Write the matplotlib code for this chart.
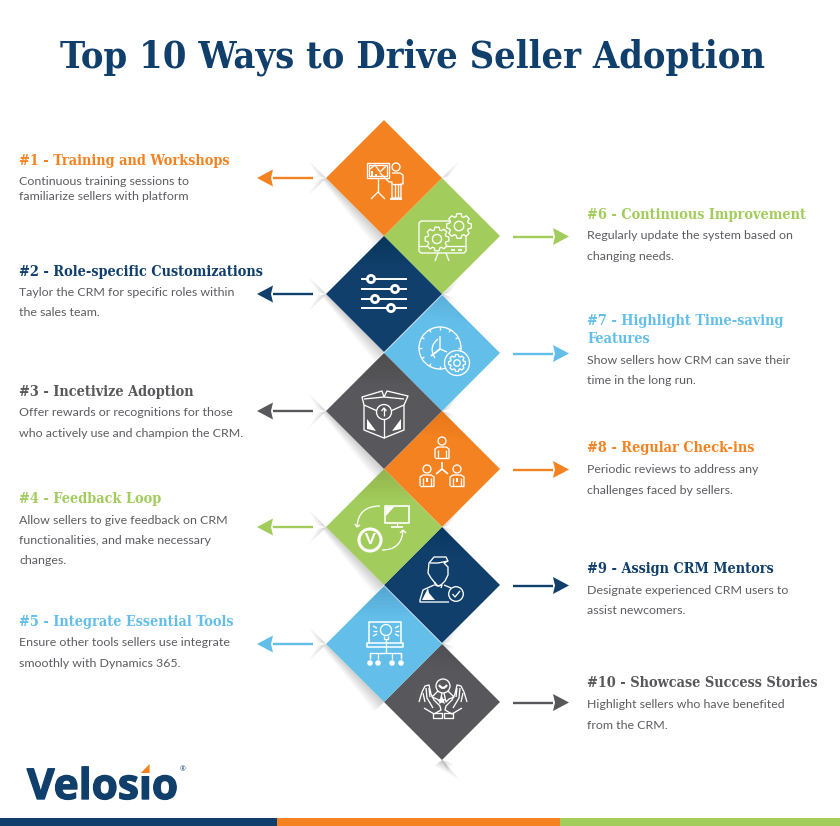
import numpy as np
import matplotlib
matplotlib.use("Agg")
import matplotlib.pyplot as plt
import matplotlib.patheffects as pe
from matplotlib.patches import Polygon, Circle, Rectangle, PathPatch
from matplotlib.path import Path

ORANGE, GREEN, NAVY, BLUE, GRAY = "#F58220", "#A2CC5B", "#103F6B", "#63BFEA", "#58585C"
BODY = "#5C5C62"

main_title = "Top 10 Ways to Drive Seller Adoption"
left_heads = ["#1 - Training and Workshops", "#2 - Role-specific Customizations",
              "#3 - Incetivize Adoption", "#4 - Feedback Loop", "#5 - Integrate Essential Tools"]
left_bodies = [["Continuous training sessions to", "familiarize sellers with platform"],
               ["Taylor the CRM for specific roles within", "the sales team."],
               ["Offer rewards or recognitions for those", "who actively use and champion the CRM."],
               ["Allow sellers to give feedback on CRM", "functionalities, and make necessary", "changes."],
               ["Ensure other tools sellers use integrate", "smoothly with Dynamics 365."]]
left_colors = [ORANGE, NAVY, GRAY, GREEN, BLUE]
right_heads = [["#6 - Continuous Improvement"], ["#7 - Highlight Time-saving", "Features"],
               ["#8 - Regular Check-ins"], ["#9 - Assign CRM Mentors"], ["#10 - Showcase Success Stories"]]
right_bodies = [["Regularly update the system based on", "changing needs."],
                ["Show sellers how CRM can save their", "time in the long run."],
                ["Periodic reviews to address any", "challenges faced by sellers."],
                ["Designate experienced CRM users to", "assist newcomers."],
                ["Highlight sellers who have benefited", "from the CRM."]]
right_colors = [GREEN, BLUE, ORANGE, NAVY, GRAY]

left_head_y = [165, 276, 396, 503, 626]
right_head_y = [219, 325, 452, 573, 687]
body_y_left = [[185, 200], [296, 316], [416, 437], [524, 544, 564], [646, 667]]
body_y_right = [[239, 260], [364, 384], [473, 494], [594, 614], [708, 729]]

fig = plt.figure(figsize=(8.4, 8.26), dpi=100)
ax = fig.add_axes([0, 0, 1, 1])
ax.set_xlim(0, 840); ax.set_ylim(826, 0); ax.axis("off")

HEAD = dict(family="DejaVu Serif", stretch="condensed", weight="bold", fontsize=10.4)
TXT = dict(family="Lato", fontsize=8.9, color=BODY)
R = 58
LX, RX = 384, 442
LY = [178, 294, 411, 527, 644]
RY = [236, 353, 469, 585, 702]

# ---------- soft shadows ----------
def wedge(ap, far1, far2, a=0.022, n=12, z=1):
    ap = np.array(ap, float); f1 = np.array(far1, float); f2 = np.array(far2, float)
    for s in np.linspace(1, .12, n):
        ax.add_patch(Polygon([ap, ap + (f1 - ap) * s, ap + (f2 - ap) * s], closed=True, fc="black", ec="none", alpha=a, zorder=z))

def band(a_, b_, nrm, t0, t1, al=0.022, n=10, z=1):
    a_ = np.array(a_, float); b_ = np.array(b_, float); nrm = np.array(nrm, float)
    for s in np.linspace(1, .1, n):
        ax.add_patch(Polygon([a_, b_, b_ + nrm * t1 * s, a_ + nrm * t0 * s], closed=True, fc="black", ec="none", alpha=al, zorder=z))

for y in LY:
    wedge((LX - R, y), (LX - R - 19, y - 19), (LX - R - 9, y - 2), a=.012, n=14)
    wedge((LX - R, y), (LX - R - 19, y + 19), (LX - R - 9, y + 2), a=.012, n=14)
    band((LX - R, y), (LX, y + R), (-.7, .7), 5, 14, al=.014, n=12)
for y in RY:
    wedge((RX, y - R), (RX + 19, y - R - 19), (RX + 8, y - R - 2), a=.012, n=14)
    wedge((RX, y + R), (RX + 12, y + R + 4), (RX + 6, y + R + 12), a=.012, n=14)
wedge((RX, RY[-1] + R), (RX + 19, RY[-1] + R + 21), (RX - 8, RY[-1] + R + 6), a=.016, n=14)

# ---------- diamonds ----------
def diamond(cx, cy, c):
    ax.add_patch(Polygon([(cx, cy - R), (cx + R, cy), (cx, cy + R), (cx - R, cy)], closed=True, fc=c, ec="none", zorder=3))
for y, c in zip(RY, right_colors):
    diamond(RX, y, c)
for y, c in zip(LY, left_colors):
    diamond(LX, y, c)
for y in LY[1:]:
    wedge((LX, y - R), (LX - 30, y - R + 30), (LX + 30, y - R + 30), a=.012, n=8, z=4)
for y in RY[1:]:
    wedge((RX, y - R), (RX + 30, y - R + 30), (RX - 22, y - R + 22), a=.008, n=8, z=4)

# ---------- icon helpers ----------
LW = 0.95
class Ic:
    def __init__(s, cx, cy, bg):
        s.c = np.array([cx, cy], float); s.bg = bg
    def line(s, pts, lw=LW, closed=False, fill=None, z=5):
        p = np.array(pts, float) + s.c
        ax.add_patch(Polygon(p, closed=closed, fc=fill if fill else "none", ec="white", lw=lw, zorder=z, joinstyle="round"))
    def solid(s, pts, z=5):
        ax.add_patch(Polygon(np.array(pts, float) + s.c, closed=True, fc="white", ec="none", zorder=z))
    def rect(s, x0, y0, x1, y1, **k):
        s.line([(x0, y0), (x1, y0), (x1, y1), (x0, y1)], closed=True, **k)
    def circ(s, x, y, r, lw=LW, fill=None, z=5):
        ax.add_patch(Circle(s.c + (x, y), r, fc=fill if fill else "none", ec="white", lw=lw, zorder=z))
    def curve(s, a, c, b, lw=LW, z=5):
        v = [tuple(np.array(q, float) + s.c) for q in (a, c, b)]
        ax.add_patch(PathPatch(Path(v, [Path.MOVETO, Path.CURVE3, Path.CURVE3]), fc="none", ec="white", lw=lw, zorder=z))
    def gear(s, x, y, r, teeth=8, z=6):
        pts = []
        for k in range(teeth):
            t = 2 * np.pi * k / teeth
            for dt, rr in ((-.3, .78), (-.17, 1), (.17, 1), (.3, .78)):
                a = t + dt
                pts.append((x + rr * r * np.cos(a), y + rr * r * np.sin(a)))
        s.line(pts, closed=True, fill=s.bg, z=z)
        s.circ(x, y, r * .38, z=z)

# 1 training
i = Ic(LX, LY[0], ORANGE)
i.rect(-17, -15.5, 5, 0)
i.rect(-15, -13, 3, -2)
i.line([(-6, 0), (-6, 14)]); i.line([(-13, 21), (-6, 14), (1, 21)])
i.line([(-14, -9), (-9, -13), (-4, -6), (2, -12)])
i.solid([(-13, -7), (-11, -7), (-11, -2), (-13, -2)]); i.solid([(-9, -4), (-7, -4), (-7, -2), (-9, -2)])
i.circ(12, -11, 4)
i.line([(8, -5), (16, -5), (19, -3), (19, 6), (17, 6), (17, 20), (8, 20), (8, 4), (5, 4), (-4, -5)])
i.line([(11, 6), (11, 20)]); i.line([(14, 6), (14, 20)]); i.line([(8, 6), (17, 6)])
i.line([(6, 21), (18, 21)], lw=1.3)

# 6 monitor + gears
i = Ic(RX, RY[0], GREEN)
i.line([(12, -15), (-21, -15), (-23, -13), (-23, 15), (-21, 17), (22, 17), (24, 15), (24, -2)])
i.line([(-23, 10), (24, 10)])
i.line([(-4, 17), (-7, 25)]); i.line([(4, 17), (7, 25)])
i.line([(9, 13.5), (13, 13.5)], lw=1.2); i.line([(16, 13.5), (20, 13.5)], lw=1.2)
i.gear(17, -10, 12.5); i.gear(-5, 3, 12)

# 2 sliders
i = Ic(LX, LY[1], NAVY)
for dy, kx in zip((-15, -5, 5, 14), (-13, 11, -9, 7)):
    i.line([(-23, dy), (23, dy)], lw=1.4)
    i.circ(kx, dy, 3.6, lw=2, fill=NAVY, z=6)

# 7 clock + gear
i = Ic(RX, RY[1], BLUE)
i.circ(-2, -5, 21)
for a in np.linspace(0, 2 * np.pi, 12, endpoint=False):
    i.line([(-2 + 18 * np.cos(a), -5 + 18 * np.sin(a)), (-2 + 21 * np.cos(a), -5 + 21 * np.sin(a))])
i.curve((-7, 5), (-14, -6), (-4, -14))
i.line([(-2, -17), (-2, -4), (5, -1)]); i.line([(-2, -4), (-11, 3)], lw=1.3)
i.circ(15, 10, 12.5, fill=BLUE, z=6)
i.gear(15, 10, 8.5, z=7)

# 3 box
i = Ic(LX, LY[2], GRAY)
i.line([(-20, -6), (0, 3), (20, -6), (20, 19), (0, 27), (-20, 19)], closed=True)
i.line([(0, 8), (0, 27)]); i.line([(-20, -12), (0, -14), (20, -12)])
i.line([(-20, -6), (-22, -14), (-2, -20), (0, -14)])
i.line([(20, -6), (24, -15), (3, -20), (0, -14)])
i.circ(0, 1, 7.5, fill=GRAY, z=6)
i.line([(0, 5), (0, -3)], z=7); i.line([(-2.5, 0), (0, -3), (2.5, 0)], z=7)
i.solid([(-17, 8), (-8, 20), (-17, 18)]); i.solid([(17, 8), (8, 20), (17, 18)])

# 8 org
i = Ic(RX, RY[2], ORANGE)
def person(p, x, y, w=7, h=11):
    p.circ(x, y - 6, 4)
    p.line([(x - w, y + h), (x - w, y + 2), (x - w + 3, y), (x + w - 3, y), (x + w, y + 2), (x + w, y + h)])
    p.line([(x - w, y + h), (x + w, y + h)])
    p.line([(x - w + 3, y + 3), (x - w + 3, y + h)]); p.line([(x + w - 3, y + 3), (x + w - 3, y + h)])
person(i, 0, -22); person(i, -15, 6); person(i, 15, 6)
i.solid([(-16, 9), (-14, 9), (-14, 13), (-16, 13)]); i.solid([(14, 9), (16, 9), (16, 13), (14, 13)])
i.line([(0, -7), (0, 0)], lw=1.2); i.line([(-6, 5), (0, 0), (6, 5)], lw=1.2)

# 4 feedback
i = Ic(LX, LY[3], GREEN)
i.rect(1, -21, 25, -4, lw=1.2)
i.solid([(2, -20), (10, -20), (2, -11)])
i.line([(13, -4), (13, -1)]); i.line([(7, 0), (19, 0)], lw=1.2)
i.circ(-14, 13, 11, lw=2.2)
ax.text(LX - 14, LY[3] + 13.5, "V", color="white", family="Lato", weight="black", fontsize=11, ha="center", va="center", zorder=6)
i.curve((-4, -21), (-26, -21), (-27, 0)); i.line([(-29, -3), (-27, 0), (-24, -2)])
i.curve((-2, 23), (18, 23), (19, 3)); i.line([(16, 6), (19, 3), (22, 6)])

# 9 mentor
i = Ic(RX, RY[3], NAVY)
i.line([(-14, -12), (-13, -22), (-8, -28), (4, -28), (6, -24), (2, -22), (6, -18), (6, -10), (3, -4),
        (-1, 0), (-4, 1), (-7, -2), (-11, -7)], closed=True)
i.line([(-12, -22), (-4, -22), (6, -24)])
i.line([(-7, -3), (-7, 0), (-4, 1), (0, 0), (-1, 3)])
i.line([(-8, 0), (-19, 5), (-22, 15), (-22, 17), (7, 17)])
i.line([(2, 0), (9, 3)])
i.solid([(-20, 15), (-14, 3), (-13, 8), (-7, 15)])
i.circ(14, 9, 7.3, fill=NAVY, z=6)
i.line([(10.5, 9), (13, 12), (18, 6)], z=7)

# 5 integrate
i = Ic(LX, LY[4], BLUE)
i.line([(-15, -1), (-15, -22), (17, -22), (17, -1)], lw=1.1)
i.rect(-17, -1, 19, 3, lw=1.1)
i.circ(2, -14, 5.5, fill=BLUE, z=6)
i.line([(0, -8), (0, -5), (4, -5), (4, -8)], fill=BLUE, z=6)
i.line([(2, -5), (2, 9)], z=4)
for sx in (-1, 1):
    i.line([(2 + sx * 9, -16), (2 + sx * 13, -18)]); i.line([(2 + sx * 9, -13), (2 + sx * 13, -13)]); i.line([(2 + sx * 9, -10), (2 + sx * 13, -8)])
i.line([(-14, 14), (-14, 9), (17, 9), (17, 14)])
for x in (-14, -6, 8, 17):
    i.line([(x, 9), (x, 15)])
    i.circ(x, 19, 2.1, fill="white")

# 10 success
i = Ic(RX, RY[4], GRAY)
i.circ(1, -16, 7)
i.curve((-3, -17), (1, -11), (5, -17), lw=1.6)
i.line([(-4, -11), (-10, -5), (-5, -3), (-2, 0), (0, -9)])
i.line([(6, -11), (12, -5), (7, -3), (4, 0), (2, -9)])
i.solid([(0, -6), (1.3, -3), (4, -3), (2, -1), (3, 2), (0, 0.5), (-3, 2), (-2, -1), (-4, -3), (-1.3, -3)])
for sx in (-1, 1):
    h = [(-24, 0), (-21, -10), (-18, -16), (-14, -17), (-12, -8), (-9, -2), (-3, 4), (-2, 8), (-9, 12), (-19, 6)]
    i.line([(sx * a + 1, b) for a, b in h])
    i.rect(*(sorted((sx * 10 + 1, sx * 1 + 1))[0], 11, sorted((sx * 10 + 1, sx * 1 + 1))[1], 16))
    i.line([(sx * 17 + 1, -14), (sx * 16 + 1, -4), (sx * 10 + 1, 6)]); i.line([(sx * 20 + 1, -9), (sx * 18 + 1, 0)]); i.line([(sx * 14 + 1, -14), (sx * 13 + 1, -5)])

# ---------- arrows ----------
def arrow(y, c, d):
    if d < 0:
        s, e, tip = 313, 273, 257
    else:
        s, e, tip = 513, 553, 569
    ax.plot([s, e], [y, y], color=c, lw=1.7, solid_capstyle="butt", zorder=2)
    ax.add_patch(Polygon([(tip, y), (e, y - 8.5), (e + d * 2, y), (e, y + 8.5)], closed=True, fc=c, ec="none", zorder=2))
for y, c in zip(LY, left_colors):
    arrow(y, c, -1)
for y, c in zip(RY, right_colors):
    arrow(y + 0.5, c, 1)

# ---------- text ----------
ax.text(60, 68, main_title, color=NAVY, family="DejaVu Serif", stretch="condensed", weight="bold", fontsize=27.2, va="baseline")
for h, y, c in zip(left_heads, left_head_y, left_colors):
    ax.text(19, y, h, color=c, va="baseline", **HEAD)
for b, ys in zip(left_bodies, body_y_left):
    for t, y in zip(b, ys):
        ax.text(19, y, t, va="baseline", **TXT)
for hs, y0, c in zip(right_heads, right_head_y, right_colors):
    for k, t in enumerate(hs):
        ax.text(587, y0 + 18 * k, t, color=c, va="baseline", **HEAD)
for b, ys in zip(right_bodies, body_y_right):
    for t, y in zip(b, ys):
        ax.text(587, y, t, va="baseline", **TXT)

# ---------- logo & footer ----------
LOGO = dict(color=NAVY, family="Open Sans", weight="bold", fontsize=30.5, va="baseline", zorder=6)
logo_word = "Velosio"
logo_x = 27
ax.text(logo_x, 799, logo_word, path_effects=[pe.withStroke(linewidth=1.0, foreground=NAVY)], **LOGO)
rend = fig.canvas.get_renderer()
def w(s):
    t = ax.text(0, 0, s, **LOGO)
    e = t.get_window_extent(rend).width
    t.remove()
    return e
x0 = logo_x + w(logo_word[:5]); x1 = logo_x + w(logo_word[:6])
ax.add_patch(Rectangle((x0 - .5, 758), x1 - x0 + 1, 18, fc="white", ec="none", zorder=7))
ax.add_patch(Polygon([(x0 + 2, 773), (x1 - 2, 764), (x1 - 2, 773)], closed=True, fc=ORANGE, ec="none", zorder=8))
ax.text(183, 770, "®", color=NAVY, family="Open Sans", fontsize=5, va="center", ha="center", zorder=6)
for a0, a1, c in ((0, 277, NAVY), (277, 560, ORANGE), (560, 840, GREEN)):
    ax.add_patch(Rectangle((a0, 818), a1 - a0, 8, fc=c, ec="none"))

fig.savefig("out.png", dpi=100)
